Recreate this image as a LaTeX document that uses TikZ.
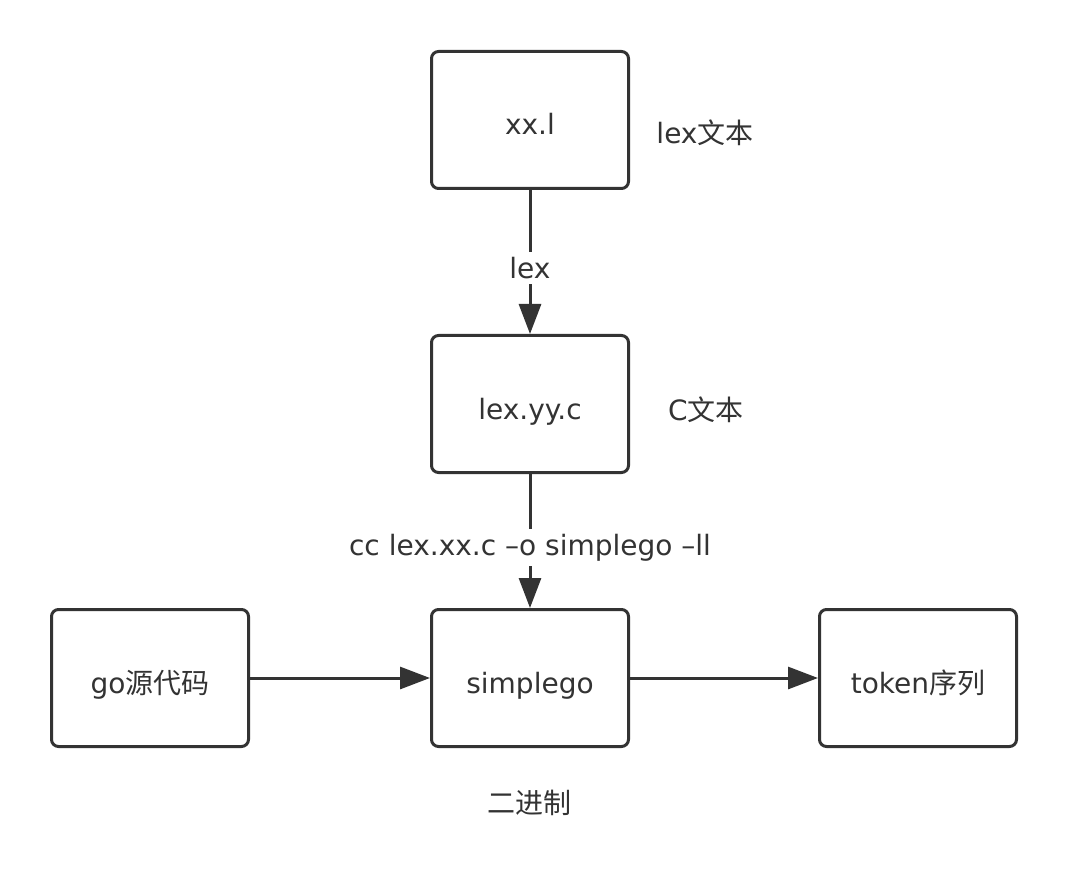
\documentclass[tikz,border=0pt]{standalone}
\usepackage{fontspec}
\setmainfont{DejaVu Sans}
\newfontfamily\cjk{Noto Sans CJK SC}
\usetikzlibrary{arrows.meta}
\definecolor{ink}{HTML}{333333}
\begin{document}
\begin{tikzpicture}[x=1pt,y=-1pt,
  box/.style={draw=ink,line width=3pt,rounded corners=7pt,minimum width=197pt,minimum height=137pt,inner sep=0pt,text=ink,font=\fontsize{28}{31}\selectfont,text height=30pt,text depth=0pt},
  lbl/.style={text=ink,font=\fontsize{28}{31}\selectfont,inner sep=2pt},
  conn/.style={draw=ink,line width=3pt,-{Triangle[length=30pt,width=22pt]}}]
\useasboundingbox (0,0) rectangle (1068,890);
\node[box] (xx) at (530,120) {xx.l};
\node[box] (lexyy) at (530,404) {lex.yy.c};
\node[box] (sg) at (530,678) {simplego};
\node[box] (go) at (150,678) {go{\cjk 源代码}};
\node[box] (tok) at (918,678) {token{\cjk 序列}};
\node[lbl] (t1) at (705,133) {lex{\cjk 文本}};
\node[lbl] (t2) at (706,410) {C{\cjk 文本}};
\node[lbl] (t3) at (529,803) {\cjk 二进制};
\draw[conn] (xx) -- node[lbl,fill=white,inner sep=5pt,pos=0.54] {lex} (lexyy);
\draw[conn] (lexyy) -- node[lbl,fill=white,inner sep=5pt,pos=0.55] {cc lex.xx.c –o simplego –ll} (sg);
\draw[conn] (go) -- (sg);
\draw[conn] (sg) -- (tok);
\end{tikzpicture}
\end{document}
